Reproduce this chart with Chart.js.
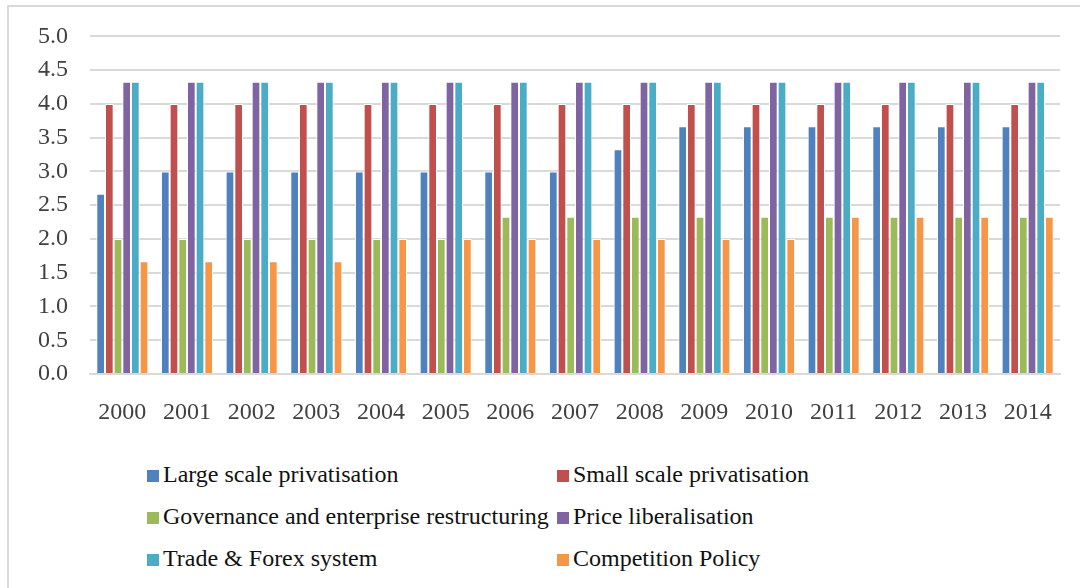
<!DOCTYPE html>
<html lang="en">
<head>
  <meta charset="UTF-8">
  <title>Transition indicators 2000-2014</title>
  <script src="https://cdn.jsdelivr.net/npm/chart.js"></script>
  <style>
    html, body { margin: 0; padding: 0; background: #fff; overflow: hidden; }
    body { width: 1080px; height: 588px; position: relative; font-family: "Liberation Serif", "Times New Roman", serif; }
    #frame { position: absolute; left: 7px; top: 5px; width: 1100px; height: 620px; border-left: 2px solid #d9d9d9; border-top: 2px solid #d9d9d9; }
    #chart-box { position: absolute; left: 0; top: 0; width: 1080px; height: 440px; }
    #legend { position: absolute; left: 0; top: 453px; width: 1080px; }
    .legend-item { position: absolute; height: 42px; line-height: 42px; font-size: 24px; color: #111; white-space: nowrap; }
    .legend-item span.box { display: inline-block; width: 12px; height: 12px; margin-right: 4px; vertical-align: 0px; }
  </style>
</head>
<body>
  <div id="frame"></div>
  <div id="chart-box"><canvas id="indicatorChart" width="1080" height="440"></canvas></div>
  <div id="legend"></div>

  <script>
    const years = ['2000', '2001', '2002', '2003', '2004', '2005', '2006', '2007',
                   '2008', '2009', '2010', '2011', '2012', '2013', '2014'];

    const largeScale   = [2.67, 3.0, 3.0, 3.0, 3.0, 3.0, 3.0, 3.0, 3.33, 3.67, 3.67, 3.67, 3.67, 3.67, 3.67];
    const smallScale   = [4.0, 4.0, 4.0, 4.0, 4.0, 4.0, 4.0, 4.0, 4.0, 4.0, 4.0, 4.0, 4.0, 4.0, 4.0];
    const governance   = [2.0, 2.0, 2.0, 2.0, 2.0, 2.0, 2.33, 2.33, 2.33, 2.33, 2.33, 2.33, 2.33, 2.33, 2.33];
    const priceLib     = [4.33, 4.33, 4.33, 4.33, 4.33, 4.33, 4.33, 4.33, 4.33, 4.33, 4.33, 4.33, 4.33, 4.33, 4.33];
    const tradeForex   = [4.33, 4.33, 4.33, 4.33, 4.33, 4.33, 4.33, 4.33, 4.33, 4.33, 4.33, 4.33, 4.33, 4.33, 4.33];
    const competition  = [1.67, 1.67, 1.67, 1.67, 2.0, 2.0, 2.0, 2.0, 2.0, 2.0, 2.0, 2.33, 2.33, 2.33, 2.33];

    const seriesNames = ['Large scale privatisation', 'Small scale privatisation',
                         'Governance and enterprise restructuring', 'Price liberalisation',
                         'Trade & Forex system', 'Competition Policy'];
    const seriesData = [largeScale, smallScale, governance, priceLib, tradeForex, competition];
    const seriesColors = ['#4F81BD', '#C0504D', '#9BBB59', '#8064A2', '#4BACC6', '#F79646'];

    const yTicks = [0, 0.5, 1, 1.5, 2, 2.5, 3, 3.5, 4, 4.5, 5];

    const serif = "'Liberation Serif', 'Times New Roman', serif";

    const ctx = document.getElementById('indicatorChart').getContext('2d');
    const chart = new Chart(ctx, {
      type: 'bar',
      data: {
        labels: years,
        datasets: seriesNames.map((name, i) => ({
          label: name,
          data: seriesData[i],
          backgroundColor: seriesColors[i],
          borderColor: '#ffffff',
          borderWidth: 1,
          barPercentage: 1.0,
          categoryPercentage: 0.805
        }))
      },
      options: {
        responsive: false,
        animation: false,
        layout: { padding: { top: 35, right: 20, left: 0, bottom: 0 } },
        plugins: {
          legend: { display: false },
          tooltip: { enabled: false }
        },
        scales: {
          x: {
            grid: { display: false, drawTicks: false },
            border: { display: true, color: '#d9d9d9', width: 2 },
            ticks: { color: '#404040', font: { family: serif, size: 24 }, padding: 24, maxRotation: 0 },
            afterFit: s => { s.height = 66; }
          },
          y: {
            min: 0,
            max: 5,
            afterBuildTicks: s => { s.ticks = yTicks.map(v => ({ value: v })); },
            grid: { color: '#d9d9d9', lineWidth: 2, drawTicks: false },
            border: { display: false },
            ticks: {
              color: '#404040',
              font: { family: serif, size: 24 },
              padding: 22,
              callback: v => Number(v).toFixed(1)
            },
            afterFit: s => { s.width = 90; }
          }
        }
      }
    });

    // legend in two columns, three rows
    const legend = document.getElementById('legend');
    const colLeft = [147, 557];
    chart.data.datasets.forEach((ds, i) => {
      const item = document.createElement('div');
      item.className = 'legend-item';
      item.style.left = colLeft[i % 2] + 'px';
      item.style.top = (Math.floor(i / 2) * 42.2) + 'px';
      const box = document.createElement('span');
      box.className = 'box';
      box.style.background = ds.backgroundColor;
      item.appendChild(box);
      item.appendChild(document.createTextNode(ds.label));
      legend.appendChild(item);
    });
  </script>
</body>
</html>
